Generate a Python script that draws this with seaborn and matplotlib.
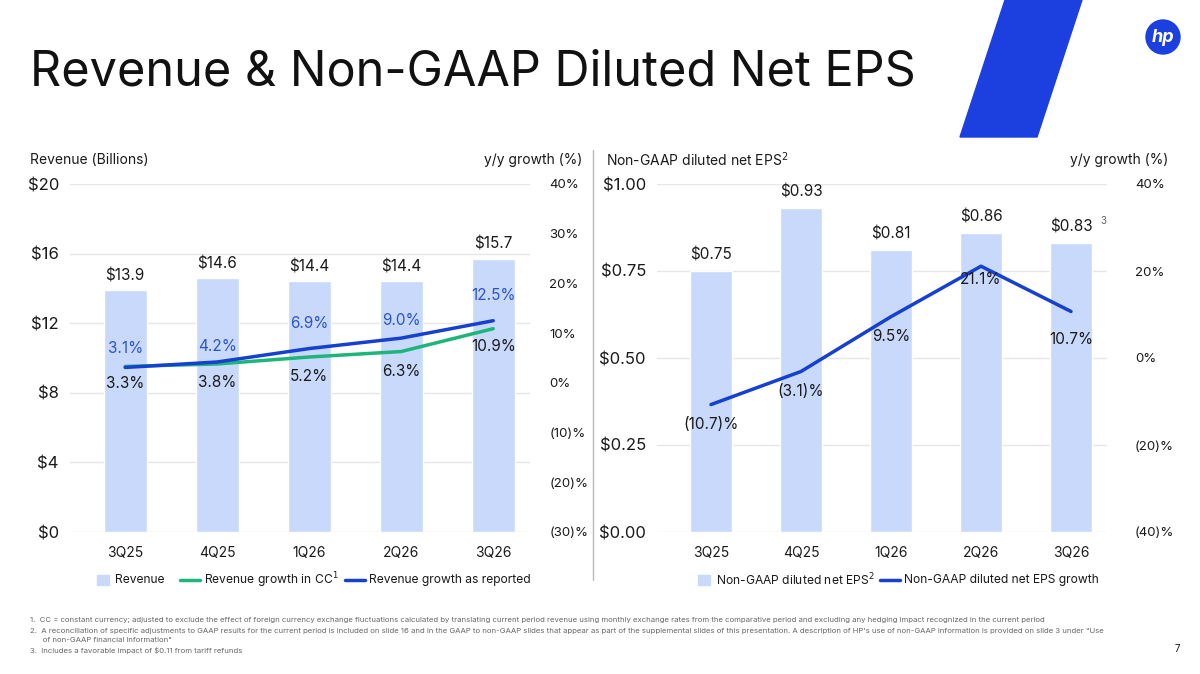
import matplotlib
matplotlib.use("Agg")
import matplotlib.pyplot as plt
from matplotlib.patches import Polygon, Circle
import seaborn as sns
import pandas as pd

sns.set_theme(style="white")
plt.rcParams['font.family'] = ['Inter', 'DejaVu Sans']

quarters = ["3Q25", "4Q25", "1Q26", "2Q26", "3Q26"]
revenue = [13.9, 14.6, 14.4, 14.4, 15.7]
rev_growth_cc = [3.3, 3.8, 5.2, 6.3, 10.9]
rev_growth_rep = [3.1, 4.2, 6.9, 9.0, 12.5]
eps = [0.75, 0.93, 0.81, 0.86, 0.83]
eps_labels = ["$0.75", "$0.93", "$0.81", "$0.86", "$0.83"]
eps_growth = [-10.7, -3.1, 9.5, 21.1, 10.7]
eps_growth_labels = ["(10.7)%", "(3.1)%", "9.5%", "21.1%", "10.7%"]
rev_ticks = [0, 4, 8, 12, 16, 20]
rev_pct_ticks = [-30, -20, -10, 0, 10, 20, 30, 40]
eps_ticks = [0.0, 0.25, 0.5, 0.75, 1.0]
eps_pct_ticks = [-40, -20, 0, 20, 40]

BAR = "#c8d9fb"
BLUE = "#1540d0"
GREEN = "#1db57a"
TXT = "#1a1a1a"

W, H = 1200, 674
fig = plt.figure(figsize=(12, 6.74), dpi=100)
def ax_at(x0, y0, x1, y1):
    return fig.add_axes([x0 / W, 1 - y1 / H, (x1 - x0) / W, (y1 - y0) / H])

fig.text(30 / W, 1 - 72 / H, "Revenue & Non-GAAP Diluted Net EPS", fontsize=35,
         va="center", ha="left", color="#111111")
bg = fig.add_axes([0, 0, 1, 1], zorder=-5); bg.set_xlim(0, W); bg.set_ylim(H, 0); bg.axis("off")
bg.add_patch(Polygon([(1005, 0), (1082, 0), (1037, 137), (960, 137)], color="#1c3fe0"))
bg.add_patch(Circle((1163, 37), 17, color="#1c3fe0"))
bg.text(1163, 37, "hp", color="white", fontsize=13, style="italic", ha="center", va="center", fontweight="bold")
bg.plot([593, 593], [150, 580], color="#bbbbbb", lw=1)

df = pd.DataFrame({"q": quarters, "rev": revenue, "cc": rev_growth_cc, "rep": rev_growth_rep,
                   "eps": eps, "eg": eps_growth})

def style(ax, ax2):
    for a in (ax, ax2):
        for s in a.spines.values():
            s.set_visible(False)
        a.tick_params(length=0, colors=TXT)
    ax.grid(axis="y", color="#e6e6e6", lw=1)
    ax.set_xlabel(""); ax.set_ylabel(""); ax2.set_ylabel("")

# ---- left
ax = ax_at(70, 184, 530, 532)
sns.barplot(data=df, x="q", y="rev", color=BAR, width=0.47, ax=ax, saturation=1, zorder=2)
ax.set_ylim(0, 20); ax.set_yticks(rev_ticks)
ax.set_yticklabels([f"${t}" for t in rev_ticks], fontsize=12)
ax.tick_params(axis="x", labelsize=10, pad=10)
ax.tick_params(axis="y", pad=8)
for i, v in enumerate(revenue):
    ax.text(i, v + 0.4, f"${v}", ha="center", va="bottom", fontsize=11, color=TXT)
ax2 = ax.twinx()
sns.lineplot(data=df, x="q", y="cc", color=GREEN, lw=2.5, ax=ax2)
sns.lineplot(data=df, x="q", y="rep", color=BLUE, lw=2.5, ax=ax2)
ax2.set_ylim(-30, 40); ax2.set_yticks(rev_pct_ticks)
ax2.set_yticklabels([f"({-t})%" if t < 0 else f"{t}%" for t in rev_pct_ticks], fontsize=9.5)
ax2.tick_params(axis="y", pad=14)
rep_off = [3.8, 3.2, 5.0, 3.5, 5.0]
cc_off = [-3.5, -3.8, -4.0, -4.0, -3.5]
for i in range(5):
    ax2.text(i, rev_growth_rep[i] + rep_off[i], f"{rev_growth_rep[i]}%", ha="center", va="center", fontsize=11, color="#2a55c8")
    ax2.text(i, rev_growth_cc[i] + cc_off[i], f"{rev_growth_cc[i]}%", ha="center", va="center", fontsize=11, color=TXT)
style(ax, ax2)
ax.set_xlim(-0.6, 4.4)

# ---- right
bx = ax_at(657, 184, 1107, 532)
sns.barplot(data=df, x="q", y="eps", color=BAR, width=0.47, ax=bx, saturation=1, zorder=2)
bx.set_ylim(0, 1.0); bx.set_yticks(eps_ticks)
bx.set_yticklabels([f"${t:.2f}" for t in eps_ticks], fontsize=12)
bx.tick_params(axis="x", labelsize=10, pad=10)
bx.tick_params(axis="y", pad=8)
for i, v in enumerate(eps):
    bx.text(i, v + 0.025, eps_labels[i], ha="center", va="bottom", fontsize=11, color=TXT)
bx.text(4.33, 0.885, "3", fontsize=7, color="#666666")
bx2 = bx.twinx()
sns.lineplot(data=df, x="q", y="eg", color=BLUE, lw=2.5, ax=bx2)
bx2.set_ylim(-40, 40); bx2.set_yticks(eps_pct_ticks)
bx2.set_yticklabels([f"({-t})%" if t < 0 else f"{t}%" for t in eps_pct_ticks], fontsize=9.5)
bx2.tick_params(axis="y", pad=20)
eg_off = [-4.5, -4.5, -4.5, -3.0, -6.5]
for i in range(5):
    bx2.text(i, eps_growth[i] + eg_off[i], eps_growth_labels[i], ha="center", va="center", fontsize=11, color=TXT)
style(bx, bx2)
bx.set_xlim(-0.6, 4.4)

# headers
fig.text(30 / W, 1 - 160 / H, "Revenue (Billions)", fontsize=10, color=TXT, va="center")
fig.text(582 / W, 1 - 160 / H, "y/y growth (%)", fontsize=10, color=TXT, va="center", ha="right")
fig.text(606 / W, 1 - 160 / H, r"Non-GAAP diluted net EPS$^{2}$", fontsize=10, color=TXT, va="center")
fig.text(1168 / W, 1 - 160 / H, "y/y growth (%)", fontsize=10, color=TXT, va="center", ha="right")

# legends
ly = 580
fs = 8.7
bg.add_patch(plt.Rectangle((97, ly - 5), 12, 10, color=BAR))
bg.text(115, ly, "Revenue", fontsize=fs, va="center", color=TXT)
bg.plot([180, 200], [ly, ly], color=GREEN, lw=2.5)
bg.text(204, ly, r"Revenue growth in CC$^{1}$", fontsize=fs, va="center", color=TXT)
bg.plot([345, 365], [ly, ly], color=BLUE, lw=2.5)
bg.text(369, ly, "Revenue growth as reported", fontsize=fs, va="center", color=TXT)
bg.add_patch(plt.Rectangle((698, ly - 5), 12, 10, color=BAR))
bg.text(716, ly, r"Non-GAAP diluted net EPS$^{2}$", fontsize=fs, va="center", color=TXT)
bg.plot([880, 900], [ly, ly], color=BLUE, lw=2.5)
bg.text(904, ly, "Non-GAAP diluted net EPS growth", fontsize=fs, va="center", color=TXT)

notes = [
    (620, "1.  CC = constant currency; adjusted to exclude the effect of foreign currency exchange fluctuations calculated by translating current period revenue using monthly exchange rates from the comparative period and excluding any hedging impact recognized in the current period"),
    (631, "2.  A reconciliation of specific adjustments to GAAP results for the current period is included on slide 16 and in the GAAP to non-GAAP slides that appear as part of the supplemental slides of this presentation. A description of HP's use of non-GAAP information is provided on slide 3 under \"Use"),
    (640, "      of non-GAAP financial information\""),
    (650, "3.  Includes a favorable impact of $0.11 from tariff refunds"),
]
for y, t in notes:
    bg.text(30, y, t, fontsize=5.6, color="#666666", va="center")
bg.text(1180, 649, "7", fontsize=7, color=TXT, va="center", ha="right")

fig.savefig("out.png", dpi=100)
